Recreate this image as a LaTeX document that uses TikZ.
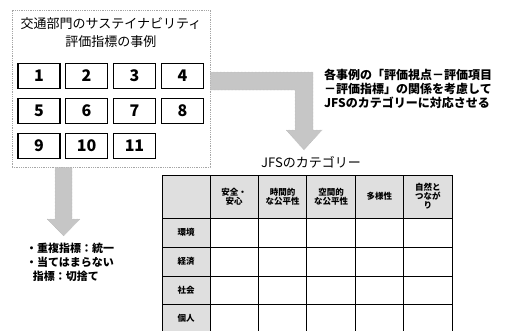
\documentclass[tikz,border=0pt]{standalone}
\usepackage{fontspec}
\setmainfont{Noto Sans CJK JP}
\usetikzlibrary{positioning,calc}
\tikzstyle{casebox} = [draw=gray!70, densely dotted, thick, rectangle,
    minimum width=198pt, minimum height=157pt, inner sep=0pt]
\tikzstyle{numbox} = [draw=black, line width=1.4pt, rectangle,
    minimum width=42pt, minimum height=25pt, inner sep=0pt,
    font=\fontsize{16}{16}\selectfont\bfseries]
\tikzstyle{bigarrow} = [fill=gray!45, draw=gray!65, densely dotted]
\tikzstyle{headcell} = [draw=black, line width=1pt, fill=gray!25, rectangle,
    inner sep=0pt, align=center, font=\fontsize{8.5}{9}\selectfont\bfseries]
\tikzstyle{bodycell} = [draw=black, line width=1pt, rectangle, inner sep=0pt]

\begin{document}
\begin{tikzpicture}[x=1pt,y=-1pt]
  \useasboundingbox (0,0) rectangle (507,330);
  % case list
  \node [casebox] (cases) at (111,88.5) {};
  \node [align=center, font=\fontsize{13}{18}\selectfont, below=4pt] (title) at (cases.north)
    {交通部門のサステイナビリティ\\評価指標の事例};
  \foreach \n/\x/\y in {1/39/76, 2/86.5/76, 3/134.5/76, 4/182.5/76,
                        5/39/111, 6/86.5/111, 7/134.5/111, 8/182.5/111,
                        9/39/146, 10/86.5/146, 11/134.5/146}
    \node [numbox] (num\n) at (\x,\y) {\n};

  % arrows
  \coordinate (ra) at (cases.east |- 0,72);
  \coordinate (rb) at (cases.east |- 0,90);
  \fill [bigarrow] (ra) -- (313,72) -- (313,130) -- (322,130) -- (304,150)
    -- (286,130) -- (295,130) -- (295,90) -- (rb) -- cycle;
  \coordinate (da) at (cases.south -| 55,0);
  \coordinate (db) at (cases.south -| 72,0);
  \fill [bigarrow] (da) -- (55,219) -- (47,219) -- (63.5,236) -- (80,219)
    -- (72,219) -- (db) -- cycle;

  % notes
  \node [anchor=north west, align=left, font=\fontsize{12}{14}\selectfont\bfseries,
    inner sep=0pt] (mapnote) at (324,69)
    {各事例の「評価視点－評価項目\\－評価指標」の関係を考慮して\\JFSのカテゴリーに対応させる};
  \node [anchor=north west, align=left, font=\fontsize{11}{14}\selectfont\bfseries,
    inner sep=0pt] (cutnote) at (26,243)
    {・重複指標：統一\\・当てはまらない\\\hspace{0.6em}指標：切捨て};

  % JFS table
  \node [font=\fontsize{13}{13}\selectfont] (jfs) at (311,162) {JFSのカテゴリー};
  \node [headcell, minimum width=48pt, minimum height=43pt] (corner) at (186,196.5) {};
  \foreach \i/\lab in {1/安全・\\安心, 2/時間的\\な公平性, 3/空間的\\な公平性,
                       4/多様性, 5/自然と\\つなが\\り}
    \node [headcell, minimum width=48.4pt, minimum height=43pt]
      (head\i) at ({210+48.4*(\i-0.5)},196.5) {\lab};
  \foreach \r/\top/\bot/\lab in {1/218/247/環境, 2/247/276/経済,
                                 3/276/304/社会, 4/304/332/個人} {
    \node [headcell, minimum width=48pt, minimum height={(\bot-\top)*1pt}]
      (row\r) at (186,{(\top+\bot)/2}) {\lab};
    \foreach \i in {1,...,5}
      \node [bodycell, minimum width=48.4pt, minimum height={(\bot-\top)*1pt}]
        (cell\r\i) at ({210+48.4*(\i-0.5)},{(\top+\bot)/2}) {};
  }
\end{tikzpicture}
\end{document}
